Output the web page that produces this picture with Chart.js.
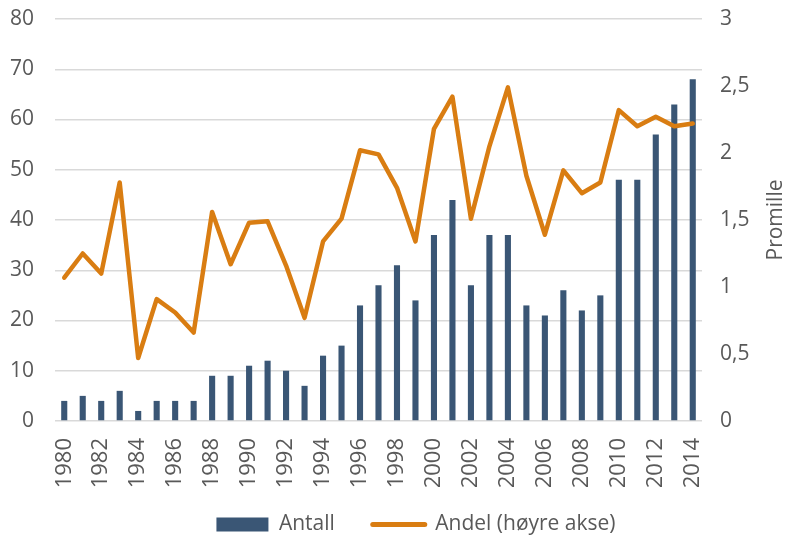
<!DOCTYPE html>
<html>
<head>
<meta charset="utf-8">
<script src="https://cdn.jsdelivr.net/npm/chart.js@4.4.1/dist/chart.umd.min.js"></script>
<style>
  html, body { margin: 0; padding: 0; background: #fff; }
  #wrap { width: 790px; height: 537px; position: relative; }
</style>
</head>
<body>
<div id="wrap"><canvas id="chart"></canvas></div>
<script>
// data
const years = [];
for (let y = 1980; y <= 2014; y++) years.push(String(y));

const antall = [4, 5, 4, 6, 2, 4, 4, 4, 9, 9, 11, 12, 10, 7, 13, 15, 23, 27, 31, 24,
  37, 44, 27, 37, 37, 23, 21, 26, 22, 25, 48, 48, 57, 63, 68];

const andel = [1.07, 1.25, 1.10, 1.78, 0.47, 0.91, 0.81, 0.66, 1.56, 1.17, 1.48, 1.49,
  1.16, 0.77, 1.34, 1.51, 2.02, 1.99, 1.74, 1.34, 2.18, 2.42, 1.51, 2.05, 2.49, 1.83,
  1.39, 1.87, 1.70, 1.78, 2.32, 2.20, 2.27, 2.20, 2.22];

const leftTicks = [0, 10, 20, 30, 40, 50, 60, 70, 80];
const rightTicks = [0, 0.5, 1, 1.5, 2, 2.5, 3];

const FONT = "'Open Sans', sans-serif";
const TEXT = '#595959';

// right axis title reads bottom-to-top, so draw it ourselves
const promilleTitle = {
  id: 'promilleTitle',
  afterLayout(chart) {
    // excel centres the legend a bit right of the plot centre
    if (chart.legend) { chart.legend.left += 36; chart.legend.right += 36; }
  },
  afterDraw(chart) {
    const ctx = chart.ctx;
    const area = chart.chartArea;
    ctx.save();
    ctx.translate(776, (area.top + area.bottom) / 2);
    ctx.rotate(-Math.PI / 2);
    ctx.font = '21px ' + FONT;
    ctx.fillStyle = TEXT;
    ctx.textAlign = 'center';
    ctx.textBaseline = 'middle';
    ctx.fillText('Promille', 0, 0);
    ctx.restore();
  }
};

// fixed axis sizes so the plot area lands where excel put it
function fixY(width) {
  return (scale) => {
    scale.width = width;
    scale.paddingTop = 0;
    scale.paddingBottom = 0;
  };
}

const ctx = document.getElementById('chart').getContext('2d');
new Chart(ctx, {
  type: 'bar',
  data: {
    labels: years,
    datasets: [
      {
        label: 'Antall',
        data: antall,
        backgroundColor: '#3A5675',
        barPercentage: 0.33,
        categoryPercentage: 1,
        yAxisID: 'y',
        order: 2
      },
      {
        type: 'line',
        label: 'Andel (høyre akse)',
        data: andel,
        borderColor: '#D97D12',
        backgroundColor: '#D97D12',
        borderWidth: 4.5,
        pointRadius: 0,
        tension: 0,
        borderJoinStyle: 'round',
        borderCapStyle: 'round',
        yAxisID: 'y1',
        order: 1
      }
    ]
  },
  options: {
    responsive: true,
    maintainAspectRatio: false,
    animation: false,
    layout: { padding: { left: 10, right: 40, top: 19, bottom: 0 } },
    plugins: {
      tooltip: { enabled: false },
      legend: {
        position: 'bottom',
        maxHeight: 50,
        labels: {
          usePointStyle: true,
          pointStyleWidth: 52,
          boxHeight: 14,
          padding: 27,
          color: TEXT,
          font: { family: FONT, size: 21 },
          generateLabels(chart) {
            return chart.data.datasets.map((ds, i) => ({
              // two trailing spaces widen the gap between the items
              text: ds.type === 'line' ? ds.label : ds.label + '  ',
              datasetIndex: i,
              fillStyle: ds.backgroundColor,
              strokeStyle: ds.type === 'line' ? ds.borderColor : ds.backgroundColor,
              lineWidth: ds.type === 'line' ? 5 : 0,
              lineCap: 'round',
              pointStyle: ds.type === 'line' ? 'line' : 'rect',
              fontColor: TEXT
            }));
          }
        }
      }
    },
    scales: {
      x: {
        grid: { display: false },
        border: { display: false },
        afterFit: (scale) => {
          // vertical labels hang straight down, no side padding needed
          scale.height = 66;
          scale.paddingLeft = 0;
          scale.paddingRight = 0;
        },
        ticks: {
          autoSkip: false,
          minRotation: 90,
          maxRotation: 90,
          padding: 9,
          color: TEXT,
          font: { family: FONT, size: 22 },
          callback: function (value, index) {
            return index % 2 === 0 ? this.getLabelForValue(value) : '';
          }
        }
      },
      y: {
        position: 'left',
        min: 0,
        max: 80,
        afterBuildTicks: (axis) => { axis.ticks = leftTicks.map(v => ({ value: v })); },
        afterFit: fixY(45),
        grid: { color: '#D9D9D9', lineWidth: 1.5, drawTicks: false },
        border: { display: false },
        ticks: {
          padding: 21,
          color: TEXT,
          font: { family: FONT, size: 21 }
        }
      },
      y1: {
        position: 'right',
        min: 0,
        max: 3,
        afterBuildTicks: (axis) => { axis.ticks = rightTicks.map(v => ({ value: v })); },
        afterFit: fixY(48),
        grid: { display: false, drawTicks: false },
        border: { display: false },
        ticks: {
          padding: 18,
          color: TEXT,
          font: { family: FONT, size: 21 },
          callback: (v) => String(v).replace('.', ',')
        }
      }
    }
  },
  plugins: [promilleTitle]
});
</script>
</body>
</html>
